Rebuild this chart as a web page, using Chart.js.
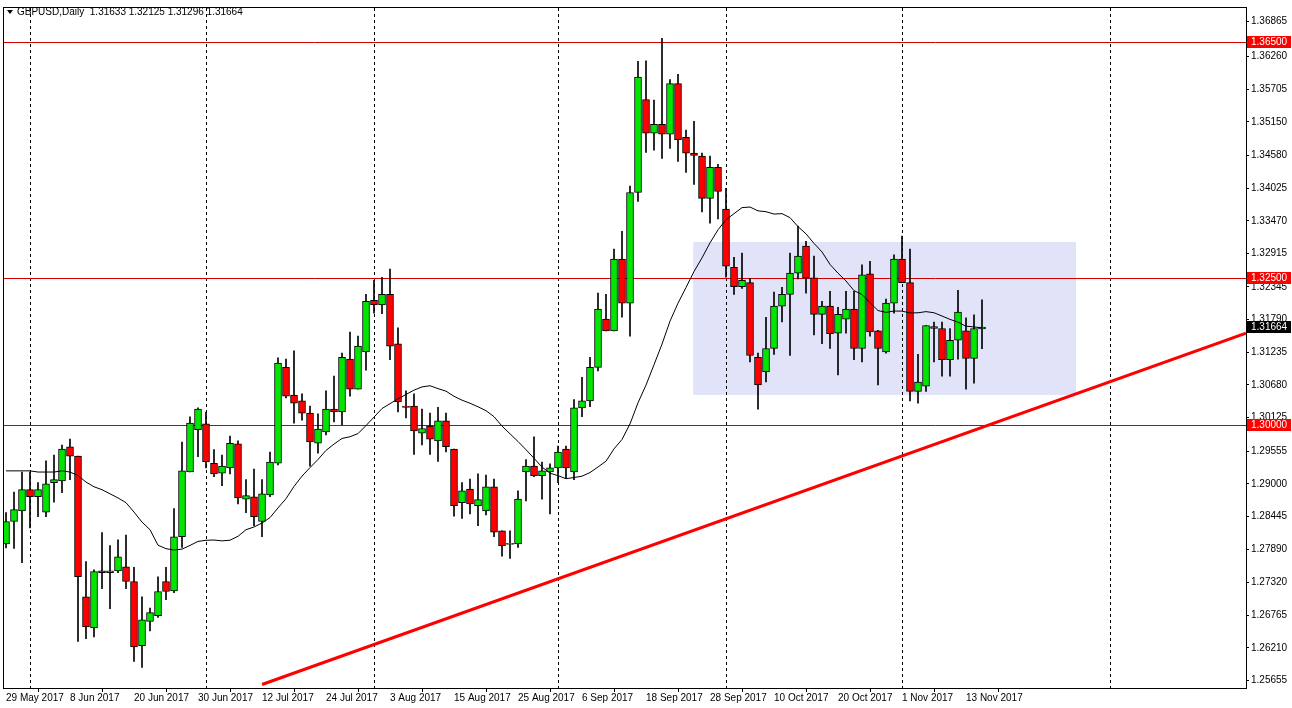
<!DOCTYPE html>
<html><head><meta charset="utf-8">
<script src="https://cdn.jsdelivr.net/npm/chart.js@4.4.1/dist/chart.umd.min.js"></script>
<style>html,body{margin:0;padding:0;background:#fff;overflow:hidden}</style>
</head><body><canvas id="c" width="1292" height="708" style="width:1292px;height:708px;display:block"></canvas>
<script>
const opens=[1.2798,1.2836,1.2854,1.2890,1.2878,1.2852,1.2902,1.2905,1.2963,1.2947,
1.2708,1.2655,1.2752,1.2749,1.2752,1.2759,1.2734,1.2625,1.2666,1.2676,
1.2734,1.2718,1.2810,1.2920,1.2992,1.3002,1.2935,1.2918,1.2927,1.2968,
1.2874,1.2878,1.2836,1.2881,1.2935,1.3098,1.3051,1.3041,1.3020,1.2969,
1.2988,1.3027,1.3022,1.3112,1.3061,1.3124,1.3212,1.3204,1.3222,1.3138,
1.3032,1.3032,1.2986,1.2998,1.2973,1.3007,1.2959,1.2868,1.2891,1.2863,
1.2854,1.2895,1.2820,1.2797,1.2798,1.2920,1.2930,1.2914,1.2920,1.2927,
1.2959,1.2920,1.3029,1.3041,1.3098,1.3180,1.3160,1.3282,1.3207,1.3395,
1.3553,1.3496,1.3511,1.3494,1.3580,1.3489,1.3462,1.3457,1.3385,1.3438,
1.3367,1.3268,1.3235,1.3242,1.3115,1.3090,1.3130,1.3202,1.3222,1.3258,
1.3304,1.3250,1.3188,1.3202,1.3156,1.3180,1.3197,1.3130,1.3257,1.3160,
1.3124,1.3207,1.3282,1.3242,1.3057,1.3066,1.3167,1.3164,1.3111,1.3144,
1.3160,1.3113,1.31633];
const highs=[1.2851,1.2886,1.2920,1.2920,1.2902,1.2939,1.2949,1.2966,1.2976,1.2947,
1.2768,1.2754,1.2817,1.2795,1.2805,1.2813,1.2758,1.2708,1.2689,1.2742,
1.2758,1.2858,1.2971,1.3014,1.3029,1.3022,1.2958,1.2949,1.2981,1.2973,
1.2907,1.2925,1.2907,1.2954,1.3114,1.3112,1.3126,1.3053,1.3032,1.3019,
1.3058,1.3083,1.3122,1.3158,1.3151,1.3222,1.3246,1.3251,1.3265,1.3165,
1.3058,1.3053,1.3027,1.3020,1.3030,1.3020,1.2959,1.2902,1.2908,1.2917,
1.2915,1.2908,1.2820,1.2820,1.2888,1.2941,1.2980,1.2937,1.2934,1.2964,
1.2964,1.3043,1.3081,1.3115,1.3224,1.3222,1.3299,1.3329,1.3406,1.3618,
1.3619,1.3552,1.3657,1.3587,1.3596,1.3501,1.3516,1.3462,1.3457,1.3443,
1.3402,1.3285,1.3292,1.3249,1.3122,1.3183,1.3226,1.3234,1.3292,1.3338,
1.3312,1.3287,1.3210,1.3227,1.3200,1.3227,1.3227,1.3272,1.3278,1.3161,
1.3214,1.3289,1.3321,1.3299,1.3120,1.3169,1.3175,1.3175,1.3164,1.3229,
1.3182,1.3187,1.32125];
const lows=[1.2791,1.2790,1.2766,1.2825,1.2844,1.2844,1.2869,1.2885,1.2907,1.2632,
1.2637,1.2640,1.2722,1.2688,1.2749,1.2722,1.2598,1.2588,1.2650,1.2673,
1.2703,1.2715,1.2792,1.2920,1.2946,1.2927,1.2912,1.2897,1.2917,1.2866,
1.2851,1.2829,1.2810,1.2878,1.2932,1.3046,1.3003,1.3008,1.2930,1.2952,
1.2983,1.3005,1.3000,1.3049,1.3061,1.3093,1.3190,1.3189,1.3111,1.3022,
1.3012,1.2950,1.2966,1.2950,1.2938,1.2954,1.2845,1.2841,1.2849,1.2829,
1.2847,1.2810,1.2777,1.2773,1.2792,1.2871,1.2912,1.2874,1.2849,1.2902,
1.2910,1.2907,1.3014,1.3031,1.3092,1.3160,1.3160,1.3183,1.3151,1.3380,
1.3463,1.3467,1.3453,1.3470,1.3448,1.3429,1.3409,1.3362,1.3343,1.3350,
1.3251,1.3222,1.3232,1.3107,1.3027,1.3073,1.3120,1.3175,1.3118,1.3248,
1.3224,1.3153,1.3138,1.3130,1.3085,1.3156,1.3111,1.3107,1.3151,1.3068,
1.3122,1.3190,1.3242,1.3041,1.3037,1.3057,1.3107,1.3083,1.3083,1.3112,
1.3061,1.3071,1.31296];
const closes=[1.2836,1.2856,1.2890,1.2878,1.2890,1.2900,1.2907,1.2959,1.2947,1.2742,
1.2657,1.2751,1.2749,1.2752,1.2776,1.2734,1.2623,1.2669,1.2681,1.2717,
1.2717,1.2810,1.2922,1.3003,1.3027,1.2937,1.2917,1.2930,1.2969,1.2876,
1.2880,1.2844,1.2883,1.2937,1.3105,1.3049,1.3037,1.3020,1.2971,1.2993,
1.3027,1.3022,1.3115,1.3061,1.3134,1.3210,1.3204,1.3222,1.3134,1.3039,
1.3030,1.2990,1.2994,1.2976,1.3007,1.2963,1.2863,1.2888,1.2866,1.2873,
1.2895,1.2818,1.2795,1.2798,1.2874,1.2930,1.2914,1.2922,1.2927,1.2954,
1.2927,1.3029,1.3041,1.3098,1.3197,1.3160,1.3282,1.3207,1.3395,1.3591,
1.3496,1.3511,1.3494,1.3580,1.3485,1.3462,1.3458,1.3385,1.3438,1.3397,
1.3270,1.3235,1.3246,1.3118,1.3068,1.3130,1.3202,1.3222,1.3258,1.3287,
1.3250,1.3188,1.3202,1.3155,1.3188,1.3197,1.3130,1.3255,1.3158,1.3130,
1.3207,1.3282,1.3242,1.3057,1.3073,1.3169,1.3164,1.3111,1.3144,1.3192,
1.3113,1.3164,1.31664];
// moving average values before 20 bars of history are available
const maStart=[1.2922,1.2922,1.2922,1.2922,1.2920,1.2920,1.2920,1.2922,1.2920,1.2914,1.2903,1.2895,1.2890,1.2883,1.2876,1.2868,1.2852,1.2835,1.2822];
const maPeriod=20;
const dateIdx=[0,8,16,24,32,40,48,56,64,72,80,88,96,104,112,120];
const dateLabels=['29 May 2017','8 Jun 2017','20 Jun 2017','30 Jun 2017','12 Jul 2017','24 Jul 2017','3 Aug 2017','15 Aug 2017','25 Aug 2017','6 Sep 2017','18 Sep 2017','28 Sep 2017','10 Oct 2017','20 Oct 2017','1 Nov 2017','13 Nov 2017'];
const priceTicks=[1.36865,1.36260,1.35705,1.35150,1.34580,1.34025,1.33470,1.32915,1.32345,1.31790,1.31235,1.30680,1.30125,1.29555,1.29000,1.28445,1.27890,1.27320,1.26765,1.26210,1.25655];
const separators=[3,25,46,69,90,112,138];
const hLevels=[1.36500,1.32500,1.30000];
const trendX=[32,155], trendY=[1.2559,1.3156];
const zoneX=[85.9,133.75], zoneY=[1.3051,1.3311];
const lastPrice=1.31664;

const n=closes.length;
const ma=closes.map((c,i)=>{ if(i<maPeriod-1) return {x:i,y:maStart[i]}; let s=0; for(let k=i-maPeriod+1;k<=i;k++) s+=closes[k]; return {x:i,y:s/maPeriod};});
const bodies=closes.map((c,i)=>({x:i,y:[opens[i],c]}));
const wicks=closes.map((c,i)=>({x:i,y:[lows[i],highs[i]]}));
const bodyCol=closes.map((c,i)=>c>=opens[i]?'#00e600':'#ff0000');
const FONT='"Liberation Sans", Arial, sans-serif';

const decor={id:'decor',
 beforeDatasetsDraw(ch){const {ctx,chartArea:a,scales:{x,y}}=ch;ctx.save();
  ctx.fillStyle='#e1e3f8';const x1=x.getPixelForValue(zoneX[0]),x2=x.getPixelForValue(zoneX[1]),y1=y.getPixelForValue(zoneY[1]),y2=y.getPixelForValue(zoneY[0]);ctx.fillRect(x1,y1,x2-x1,y2-y1);
  ctx.strokeStyle='#000';ctx.lineWidth=1;ctx.setLineDash([3,3]);
  separators.forEach(s=>{const px=Math.round(x.getPixelForValue(s))+0.5;ctx.beginPath();ctx.moveTo(px,a.top);ctx.lineTo(px,a.bottom);ctx.stroke();});
  ctx.setLineDash([]);ctx.strokeStyle='#d00000';
  hLevels.forEach(h=>{const py=Math.round(y.getPixelForValue(h))+0.5;ctx.beginPath();ctx.moveTo(a.left,py);ctx.lineTo(a.right,py);ctx.stroke();});
  ctx.restore();},
 afterDraw(ch){const {ctx,chartArea:a,scales:{y}}=ch;ctx.save();
  ctx.strokeStyle='#000';ctx.lineWidth=1;ctx.strokeRect(a.left-0.5,a.top-0.5,a.right-a.left+1,a.bottom-a.top+1);
  ctx.font='10px '+FONT;ctx.textBaseline='middle';
  const box=(v,bg)=>{const py=Math.round(y.getPixelForValue(v));ctx.fillStyle=bg;ctx.fillRect(a.right+1,py-6,44,12);ctx.fillStyle='#fff';ctx.textAlign='left';ctx.fillText(v.toFixed(5),a.right+5,py);};
  hLevels.forEach(h=>box(h,'#ff0000'));box(lastPrice,'#000');
  ctx.fillStyle='#000';ctx.beginPath();ctx.moveTo(7,10);ctx.lineTo(13,10);ctx.lineTo(10,14);ctx.closePath();ctx.fill();
  ctx.textAlign='left';
  ctx.fillText('GBPUSD,Daily  '+opens[n-1].toFixed(5)+' '+highs[n-1].toFixed(5)+' '+lows[n-1].toFixed(5)+' '+closes[n-1].toFixed(5),17,12);
  ctx.restore();}
};

new Chart(document.getElementById('c'),{
 data:{datasets:[
  {type:'bar',data:wicks,backgroundColor:'#000',barThickness:1,grouped:false,order:3},
  {type:'bar',data:bodies,backgroundColor:bodyCol,borderColor:'#000',borderWidth:1,borderSkipped:false,barThickness:7,grouped:false,order:2,minBarLength:1},
  {type:'line',data:ma,borderColor:'#000',borderWidth:1,pointRadius:0,tension:0,order:1},
  {type:'line',data:trendX.map((v,i)=>({x:v,y:trendY[i]})),borderColor:'#ff0000',borderWidth:3,pointRadius:0,order:0}
 ]},
 options:{responsive:false,animation:false,devicePixelRatio:1,
  layout:{padding:{left:4,top:6,right:0,bottom:0}},
  plugins:{legend:{display:false},tooltip:{enabled:false}},
  scales:{
   x:{type:'linear',min:-0.25,max:155,offset:false,
     afterFit(s){s.height=20;},
     afterBuildTicks(s){s.ticks=dateIdx.map(v=>({value:v}));},
     grid:{drawOnChartArea:false,color:'#000',tickLength:4},border:{display:false},
     ticks:{autoSkip:false,maxRotation:0,align:'start',padding:0,color:'#000',font:{family:FONT,size:10},
       callback:(v)=>dateLabels[dateIdx.indexOf(v)]}},
   y:{type:'linear',position:'right',min:1.25530,max:1.37086,
     afterFit(s){s.width=46;},
     afterBuildTicks(s){s.ticks=priceTicks.map(v=>({value:v}));},
     grid:{drawOnChartArea:false,color:'#000',tickLength:3},border:{display:false},
     ticks:{autoSkip:false,padding:2,color:'#000',font:{family:FONT,size:10},callback:v=>v.toFixed(5)}}
  }},
 plugins:[decor]
});
</script>
</body></html>
